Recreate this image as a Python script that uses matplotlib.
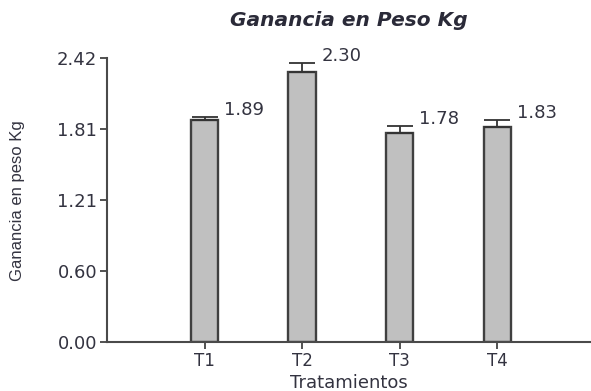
import matplotlib; matplotlib.use("Agg"); import matplotlib.pyplot as plt
import numpy as np

TRAT = ["T1", "T2", "T3", "T4"]
GANANCIA = [1.89, 2.30, 1.78, 1.83]
ERR = [0.03, 0.08, 0.06, 0.06]
YTICKS = [0.00, 0.605, 1.21, 1.815, 2.42]
YLABELS = ["0.00", "0.60", "1.21", "1.81", "2.42"]

plt.rcParams["font.family"] = ["DejaVu Sans"]
TXT = "#333340"

fig = plt.figure(figsize=(5.91, 3.91), dpi=100)
ax = fig.add_axes([0.181, 0.125, 0.819, 0.726])

x = np.arange(1, len(TRAT) + 1)
w = 0.28
ax.bar(x, GANANCIA, width=w, color="#c0c0c0", edgecolor="#404040", linewidth=1.7, zorder=2)
ax.errorbar(x, GANANCIA, yerr=[np.zeros(len(ERR)), ERR], fmt="none", ecolor="#333333",
            elinewidth=1.3, capsize=9.7, capthick=1.3, zorder=3)
for xi, v, e in zip(x, GANANCIA, ERR):
    ax.annotate(f"{v:.2f}", xy=(xi + w / 2, v + e), xytext=(4, 5), textcoords="offset points",
                ha="left", va="center", fontsize=13, color=TXT)

ax.set_xlim(0, 4.96)
ax.set_ylim(0, 2.42)
ax.set_xticks(x, TRAT)
ax.set_yticks(YTICKS, YLABELS)
ax.tick_params(axis="both", direction="out", length=5, width=1.2, color="#333333",
               labelsize=13, labelcolor=TXT, pad=2)
ax.tick_params(axis="x", labelsize=12, pad=2)
for s in ["top", "right"]:
    ax.spines[s].set_visible(False)
for s in ["left", "bottom"]:
    ax.spines[s].set_color("#4a4a4a"); ax.spines[s].set_linewidth(1.5)

# x label sits on the bottom edge of the figure
ax.set_xlabel("Tratamientos", fontsize=13, color=TXT, va="bottom")
ax.xaxis.set_label_coords(0.5, -0.002, transform=fig.transFigure)
ax.xaxis.label.set_x(0.59)
ax.set_ylabel("Ganancia en peso Kg", fontsize=12, color=TXT, family="Liberation Sans")
ax.yaxis.set_label_coords(-0.17, 0.5)
ax.set_title("Ganancia en Peso Kg", fontsize=14.5, fontweight="bold", fontstyle="italic",
             color="#2a2a38", pad=23)

fig.savefig("out.png", dpi=100)
